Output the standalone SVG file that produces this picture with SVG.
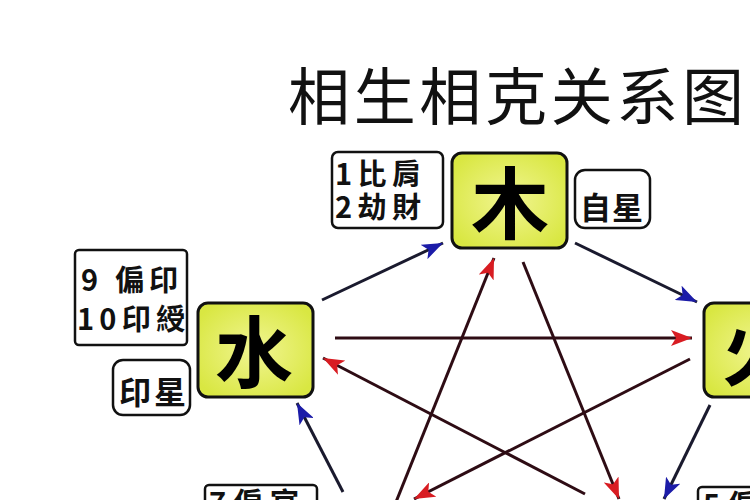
<svg xmlns="http://www.w3.org/2000/svg" width="750" height="500" viewBox="0 0 750 500">
<style>
.el{stroke:#111;stroke-width:3;}
.big{font-family:"Noto Sans CJK SC","Noto Sans CJK TC",sans-serif;font-weight:700;font-size:78px;fill:#000;text-anchor:middle;}
.lab{fill:#fff;stroke:#111;stroke-width:2.5;}
.lt{font-family:"Noto Sans CJK TC","Noto Sans CJK SC",sans-serif;font-weight:700;font-size:29px;fill:#111;}
.title{font-family:"Noto Sans CJK SC",sans-serif;font-size:62px;fill:#111;}
.gen{stroke:#1a1a2e;stroke-width:3;fill:none;marker-end:url(#blue);}
.ke{stroke:#2e0c14;stroke-width:3;fill:none;marker-end:url(#red);}
</style>
<defs>
<radialGradient id="yg" cx="50%" cy="50%" r="60%">
<stop offset="0" stop-color="#f1f592"/>
<stop offset="1" stop-color="#d9e742"/>
</radialGradient>
<marker id="blue" markerUnits="userSpaceOnUse" markerWidth="22" markerHeight="16" refX="21" refY="8" orient="auto">
<path d="M0,0 L21,8 L0,16 L5,8 z" fill="#1c1ca8"/>
</marker>
<marker id="red" markerUnits="userSpaceOnUse" markerWidth="22" markerHeight="16" refX="21" refY="8" orient="auto">
<path d="M0,0 L21,8 L0,16 L5,8 z" fill="#d81c22"/>
</marker>
</defs>
<rect width="750" height="500" fill="#fff"/>
<text class="title" x="288" y="120" textLength="456" lengthAdjust="spacing">相生相克关系图</text>
<g id="connectors">
<line class="gen" x1="322" y1="300" x2="443" y2="243"/>
<line class="gen" x1="575" y1="243" x2="697" y2="302"/>
<line class="gen" x1="710" y1="405" x2="664" y2="499"/>
<line class="gen" x1="343" y1="492" x2="297" y2="403"/>
<line class="ke" x1="335" y1="338" x2="692" y2="338"/>
<line class="ke" x1="523" y1="262" x2="619" y2="499"/>
<line class="ke" x1="690" y1="359" x2="414" y2="499"/>
<line class="ke" x1="396" y1="502" x2="494" y2="258"/>
<line class="ke" x1="585" y1="494" x2="323" y2="358"/>
</g>
<g id="wood">
<rect class="el" x="452" y="153" width="115" height="95" rx="10" fill="url(#yg)"/>
<text class="big" x="510" y="233">木</text>
</g>
<g id="water">
<rect class="el" x="198" y="303" width="115" height="94" rx="10" fill="url(#yg)"/>
<text class="big" x="254" y="382">水</text>
</g>
<g id="fire">
<rect class="el" x="704" y="303" width="115" height="94" rx="10" fill="url(#yg)"/>
<text class="big" x="761" y="380">火</text>
</g>
<g id="label-wood-1">
<rect class="lab" x="332" y="152" width="111" height="76" rx="6"/>
<text class="lt"><tspan x="335" y="185" textLength="86" lengthAdjust="spacing">1比肩</tspan><tspan x="335" y="218" textLength="86" lengthAdjust="spacing">2劫財</tspan></text>
</g>
<g id="label-wood-2">
<rect class="lab" x="575" y="170" width="75" height="58" rx="10"/>
<text class="lt" x="580" y="219" style="font-size:31px" textLength="63" lengthAdjust="spacing">自星</text>
</g>
<g id="label-water-1">
<rect class="lab" x="75" y="250" width="112" height="95" rx="4"/>
<text class="lt"><tspan x="81" y="291" textLength="97" lengthAdjust="spacing">9 偏印</tspan><tspan x="77" y="330" textLength="108" lengthAdjust="spacing">10印綬</tspan></text>
</g>
<g id="label-water-2">
<rect class="lab" x="113" y="360" width="77" height="55" rx="10"/>
<text class="lt" x="119" y="404" style="font-size:32px" textLength="67" lengthAdjust="spacing">印星</text>
</g>
<g id="label-metal">
<rect class="lab" x="205" y="485" width="112" height="95" rx="4"/>
<text class="lt" x="209" y="514" textLength="90" lengthAdjust="spacing">7偏官</text>
</g>
<g id="label-earth">
<rect class="lab" x="698" y="487" width="112" height="95" rx="4"/>
<text class="lt" x="703" y="516" textLength="90" lengthAdjust="spacing">5偏財</text>
</g>
</svg>
